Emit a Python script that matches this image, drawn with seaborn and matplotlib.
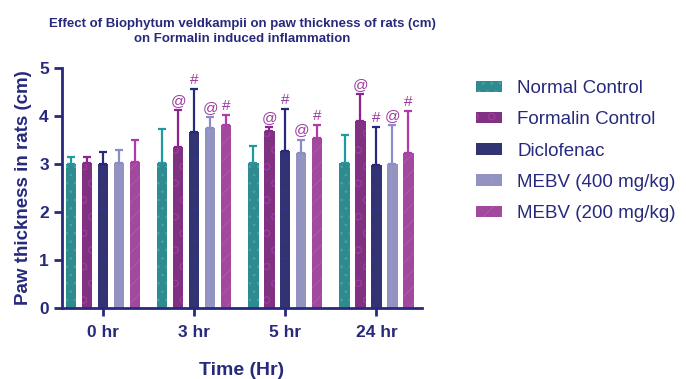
import matplotlib
matplotlib.use("Agg")
import matplotlib.pyplot as plt
import seaborn as sns
import pandas as pd
import numpy as np

# ---- data ----
times = ["0 hr", "3 hr", "5 hr", "24 hr"]
groups = ["Normal Control", "Formalin Control", "Diclofenac", "MEBV (400 mg/kg)", "MEBV (200 mg/kg)"]
normal_mean = [3.01, 3.02, 3.03, 3.03]
normal_sd = [0.14, 0.70, 0.35, 0.58]
formalin_mean = [3.02, 3.35, 3.68, 3.89]
formalin_sd = [0.13, 0.77, 0.09, 0.57]
diclo_mean = [3.00, 3.67, 3.28, 2.98]
diclo_sd = [0.26, 0.89, 0.86, 0.79]
mebv400_mean = [3.02, 3.76, 3.23, 3.01]
mebv400_sd = [0.28, 0.21, 0.28, 0.80]
mebv200_mean = [3.05, 3.81, 3.54, 3.22]
mebv200_sd = [0.44, 0.21, 0.27, 0.88]
normal_sig = ["", "", "", ""]
formalin_sig = ["", "@", "@", "@"]
diclo_sig = ["", "#", "#", "#"]
mebv400_sig = ["", "@", "@", "@"]
mebv200_sig = ["", "#", "#", "#"]

means = [normal_mean, formalin_mean, diclo_mean, mebv400_mean, mebv200_mean]
sds = [normal_sd, formalin_sd, diclo_sd, mebv400_sd, mebv200_sd]
sigs = [normal_sig, formalin_sig, diclo_sig, mebv400_sig, mebv200_sig]

rows = []
for g, m in zip(groups, means):
    for t, v in zip(times, m):
        rows.append({"Time": t, "Group": g, "Value": v})
df = pd.DataFrame(rows)

colors = ["#1f9aa0", "#8e2390", "#27287e", "#8b8cc9", "#b03aaa"]
hatch_cols = ["#3aa9ae", "#9c3a9e", "#33358a", "#9899d1", "#bb55b5"]
hatches = ["..", "o", "-", "|", "//"]
navy = "#272a7c"
annot_col = "#9a3a9e"

sns.set_style("ticks")
plt.rcParams["font.family"] = ["Liberation Sans", "DejaVu Sans"]
plt.rcParams["hatch.linewidth"] = 0.6

fig = plt.figure(figsize=(6.86, 3.79), dpi=100)
ax = fig.add_axes([62 / 686, 1 - 308 / 379, (422 - 62) / 686, (308 - 68) / 379])

sns.barplot(data=df, x="Time", y="Value", hue="Group", order=times, hue_order=groups,
            palette=colors, errorbar=None, width=0.875, gap=0.35, ax=ax, legend=True)

bar_conts = list(ax.containers)
for ci, cont in enumerate(bar_conts):
    xs, ys = [], []
    for p in cont.patches:
        p.set_hatch(hatches[ci])
        p.set_edgecolor(hatch_cols[ci])
        p.set_linewidth(0)
        xs.append(p.get_x() + p.get_width() / 2)
        ys.append(p.get_height())
    ax.errorbar(xs, ys, yerr=[np.zeros(len(ys)), sds[ci]], fmt="none",
                ecolor=colors[ci], elinewidth=1.6, capsize=3.2, capthick=1.6, zorder=3)
    for x, y, s, sym in zip(xs, ys, sds[ci], sigs[ci]):
        if sym:
            ax.annotate(sym, (x, y + s), xytext=(0, 1.5), textcoords="offset points",
                        ha="center", va="bottom", fontsize=11, color=annot_col)

# legend
handles, labels = ax.get_legend_handles_labels()
ax.get_legend().remove()
for h, hc, ht in zip(handles, hatch_cols, hatches):
    h.set_hatch(ht)
    h.set_edgecolor(hc)
    h.set_linewidth(0)
fig.legend(handles, labels, loc="center left", bbox_to_anchor=(476 / 686, 1 - 151 / 379),
           frameon=False, fontsize=13.5, handlelength=1.4, handleheight=0.55,
           labelspacing=0.76, handletextpad=0.8, borderpad=0, borderaxespad=0,
           labelcolor=navy)

ax.set_xlim(-0.45, 3.5)
ax.set_ylim(0, 5)
ax.set_yticks([0, 1, 2, 3, 4, 5])
for side in ["top", "right"]:
    ax.spines[side].set_visible(False)
for side in ["left", "bottom"]:
    ax.spines[side].set_color(navy)
    ax.spines[side].set_linewidth(2)
ax.tick_params(axis="both", colors=navy, width=2, length=6, labelsize=12.5)
ax.tick_params(axis="x", pad=6)
for lbl in ax.get_xticklabels() + ax.get_yticklabels():
    lbl.set_fontweight("bold")
    lbl.set_color(navy)

ax.set_xlabel("Time (Hr)", fontsize=14, fontweight="bold", color=navy, labelpad=16)
ax.set_ylabel("Paw thickness in rats (cm)", fontsize=13.5, fontweight="bold", color=navy, labelpad=5)
ax.set_title("Effect of Biophytum veldkampii on paw thickness of rats (cm)\non Formalin induced inflammation",
             fontsize=9.5, fontweight="bold", color=navy, pad=19, linespacing=1.3)

fig.savefig("out.png", dpi=100)
